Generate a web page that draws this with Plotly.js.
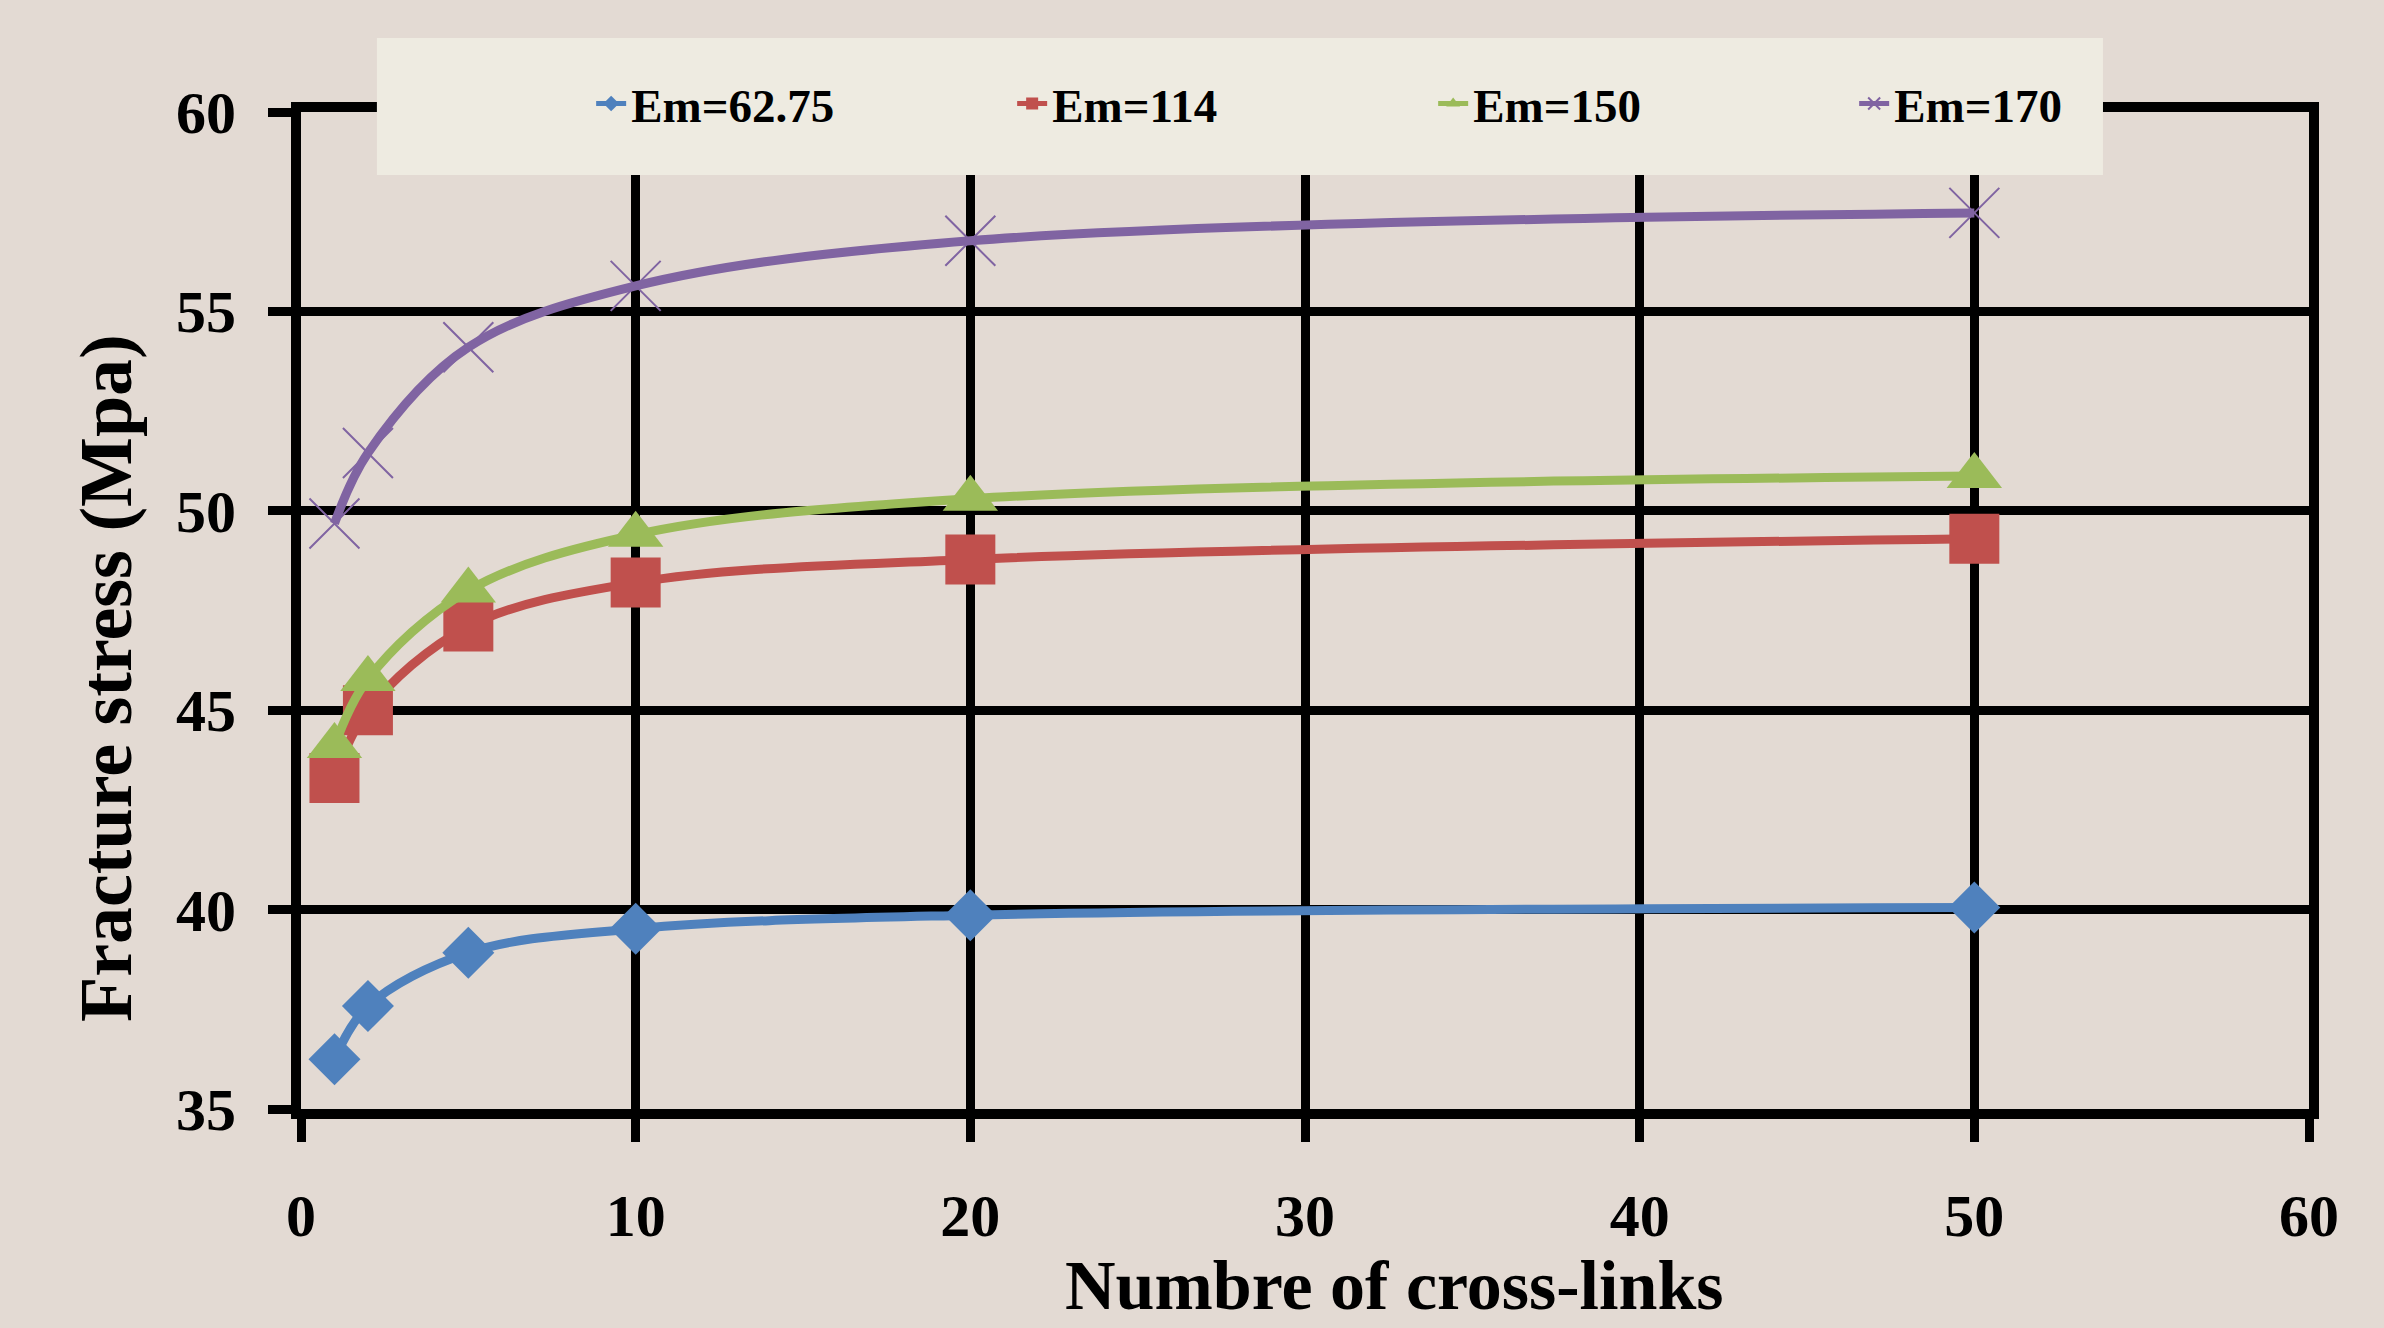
<!DOCTYPE html>
<html>
<head>
<meta charset="utf-8">
<script src="https://cdn.plot.ly/plotly-3.0.1.min.js"></script>
<style>
  html, body { margin: 0; padding: 0; background: #E3DAD3; }
  #chart { width: 2384px; height: 1328px; }
</style>
</head>
<body>
<div id="chart"></div>
<script>
// ---- data ----
const crossLinks = [1, 2, 5, 10, 20, 50];
const seriesNames = ["Em=62.75", "Em=114", "Em=150", "Em=170"];
const em62 = [36.25, 37.58, 38.92, 39.52, 39.86, 40.05];
const em114 = [43.3, 45.0, 47.1, 48.2, 48.78, 49.3];
const em150 = [44.1, 45.78, 48.0, 49.4, 50.3, 50.87];
const em170 = [49.68, 51.45, 54.1, 55.64, 56.77, 57.47];
const xTickVals = [0, 10, 20, 30, 40, 50, 60];
const yTickVals = [35, 40, 45, 50, 55, 60];
const xTitle = "Numbre of cross-links";
const yTitle = "Fracture stress (Mpa)";

// ---- styles ----
const colors = ["#4F81BD", "#C0504D", "#9BBB59", "#8064A2"];
const symbols = ["diamond", "square", "triangle-up", "x-thin"];
const sizes = [40, 50, 48, 50];
const serif = "Liberation Serif, Times New Roman, serif";
const values = [em62, em114, em150, em170];

const traces = values.map((v, i) => ({
  type: "scatter",
  mode: "lines+markers",
  name: seriesNames[i],
  x: crossLinks,
  y: v,
  line: { color: colors[i], width: 9, shape: "spline", smoothing: 1 },
  marker: {
    symbol: symbols[i],
    size: sizes[i],
    color: colors[i],
    line: { color: colors[i], width: i === 3 ? 2 : 0 }
  }
}));

const axisCommon = {
  showgrid: true,
  gridcolor: "#000000",
  gridwidth: 9,
  showline: true,
  linecolor: "#000000",
  linewidth: 10,
  mirror: true,
  ticks: "outside",
  ticklen: 23,
  tickwidth: 9,
  tickcolor: "#000000",
  zeroline: false,
  tickfont: { family: serif, size: 60, color: "#000000", weight: "bold" }
};

const layout = {
  width: 2384,
  height: 1328,
  paper_bgcolor: "#E3DAD3",
  plot_bgcolor: "#E3DAD3",
  margin: { l: 301, r: 75, t: 112, b: 219 },
  showlegend: true,
  xaxis: Object.assign({}, axisCommon, {
    range: [0, 60],
    tickvals: xTickVals,
    ticklabelstandoff: 22
  }),
  yaxis: Object.assign({}, axisCommon, {
    range: [35, 60],
    tickvals: yTickVals,
    ticklabelstandoff: 20
  }),
  legend: {
    orientation: "h",
    x: 0.1445,
    xanchor: "left",
    y: 1.008,
    yanchor: "middle",
    bgcolor: "rgba(0,0,0,0)",
    borderwidth: 0,
    itemsizing: "constant",
    entrywidth: 376,
    entrywidthmode: "pixels",
    font: { family: serif, size: 47, color: "#000000", weight: "bold" }
  },
  shapes: [{
    type: "rect",
    xref: "paper", yref: "paper",
    x0: 0.0378, x1: 0.8974, y0: 0.9368, y1: 1.0742,
    fillcolor: "#EEEBE1",
    line: { width: 0 },
    layer: "above"
  }],
  annotations: [
    {
      text: xTitle,
      xref: "paper", yref: "paper",
      x: 0.5448, y: -0.2177,
      xanchor: "center", yanchor: "bottom",
      showarrow: false,
      font: { family: serif, size: 70, color: "#000000", weight: "bold" }
    },
    {
      text: yTitle,
      xref: "paper", yref: "paper",
      x: -0.0971, y: 0.4323,
      xanchor: "center", yanchor: "middle",
      textangle: -90,
      showarrow: false,
      font: { family: serif, size: 74, color: "#000000", weight: "bold" }
    }
  ]
};

Plotly.newPlot("chart", traces, layout, { displayModeBar: false, staticPlot: true });
</script>
</body>
</html>
